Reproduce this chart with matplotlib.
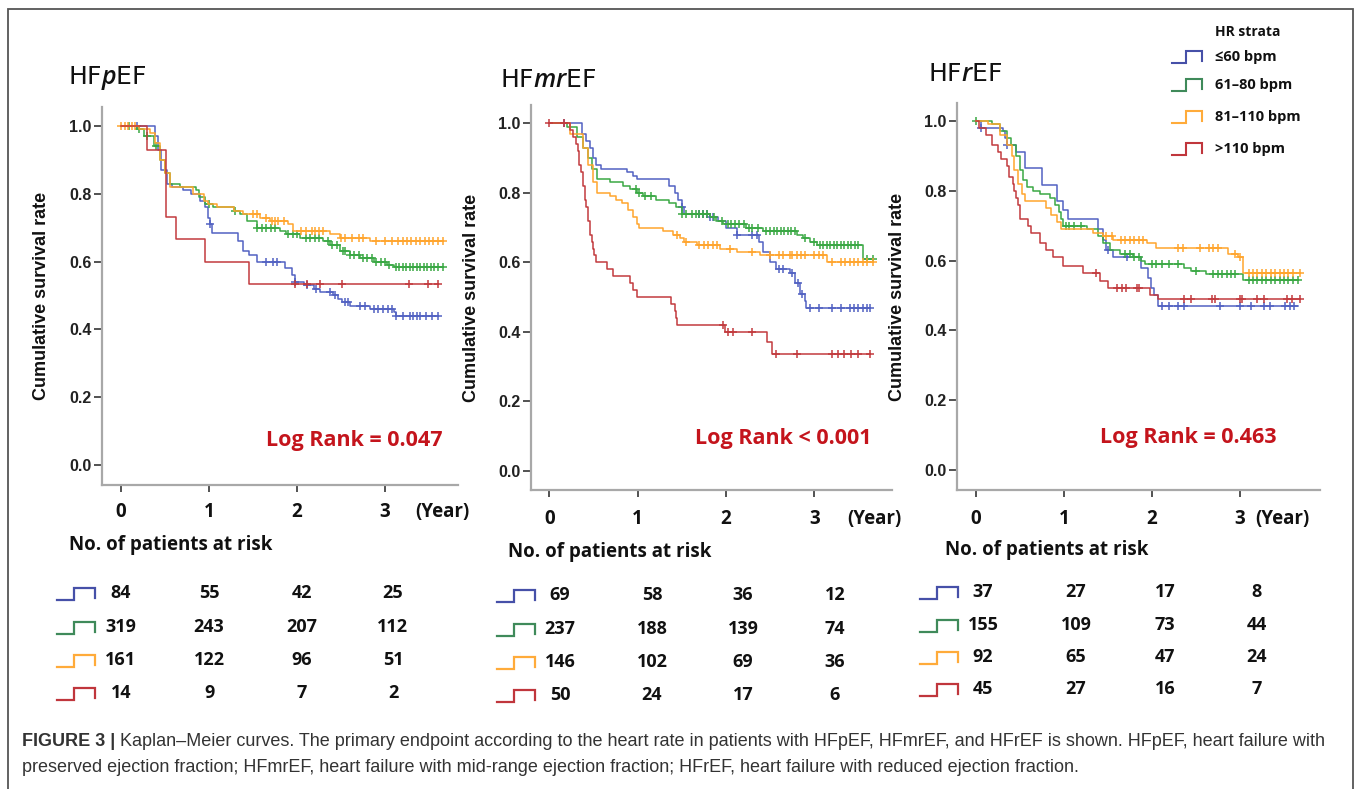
import numpy as np
import matplotlib.pyplot as plt
from matplotlib import font_manager as fm
from matplotlib.lines import Line2D
from matplotlib.patches import Rectangle

W, H = 1357, 789  # figure size in px

groups = ['≤60 bpm', '61–80 bpm', '81–110 bpm', '>110 bpm']
colors = ['#5262c2', '#3aa844', '#ffa52e', '#c23b3e']
icon_colors = ['#4650a8', '#3f8a5a', '#ffab3a', '#c0363c']
titles = [r'HF$\mathit{p}$EF', r'HF$\mathit{mr}$EF', r'HF$\mathit{r}$EF']
logrank = ['Log Rank = 0.047', 'Log Rank < 0.001', 'Log Rank = 0.463']
years = [0, 1, 2, 3]

# ---- HFpEF ----
p_blue_t = [0, 0.39, 0.42, 0.46, 0.52, 0.58, 0.70, 0.80, 0.90, 0.95, 0.99, 1.01, 1.03, 1.33, 1.39, 1.45,
            1.54, 1.86, 1.94, 1.98, 2.08, 2.19, 2.26, 2.41, 2.47, 2.51, 2.60, 2.83, 3.10, 3.13]
p_blue_s = [1.0, 0.97, 0.93, 0.87, 0.83, 0.82, 0.81, 0.80, 0.78, 0.76, 0.73, 0.71, 0.685, 0.66, 0.63, 0.62,
            0.60, 0.58, 0.56, 0.54, 0.53, 0.52, 0.51, 0.50, 0.49, 0.48, 0.47, 0.46, 0.45, 0.44]
p_blue_c = [0.18, 1.01, 1.65, 1.73, 1.77, 1.98, 2.11, 2.22, 2.37, 2.43, 2.55, 2.58, 2.72, 2.77, 2.87, 2.92,
            2.98, 3.04, 3.08, 3.13, 3.2, 3.28, 3.32, 3.36, 3.4, 3.47, 3.53, 3.6]
p_green_t = [0, 0.18, 0.26, 0.38, 0.44, 0.50, 0.56, 0.67, 0.85, 0.89, 0.95, 1.05, 1.28, 1.35, 1.43, 1.54,
             1.81, 1.88, 2.03, 2.30, 2.38, 2.49, 2.60, 2.72, 2.87, 3.02, 3.10]
p_green_s = [1.0, 0.99, 0.97, 0.94, 0.90, 0.86, 0.83, 0.82, 0.81, 0.79, 0.77, 0.76, 0.75, 0.74, 0.72, 0.70,
             0.69, 0.68, 0.67, 0.66, 0.65, 0.63, 0.62, 0.61, 0.60, 0.59, 0.585]
p_green_c = [0.09, 0.2, 0.3, 0.4, 1.0, 1.3, 1.55, 1.6, 1.65, 1.7, 1.75, 1.9, 1.95, 2.0, 2.1, 2.15, 2.2, 2.25,
             2.35, 2.4, 2.45, 2.52, 2.55, 2.6, 2.65, 2.7, 2.75, 2.8, 2.85, 2.9, 2.95, 3.0, 3.05, 3.12, 3.16,
             3.2, 3.24, 3.28, 3.32, 3.36, 3.4, 3.44, 3.48, 3.52, 3.56, 3.6, 3.66]
p_orange_t = [0, 0.20, 0.33, 0.39, 0.44, 0.50, 0.56, 0.82, 0.94, 0.99, 1.09, 1.28, 1.39, 1.58, 1.69, 1.90,
              1.96, 2.37, 2.49, 2.83]
p_orange_s = [1.0, 0.99, 0.98, 0.95, 0.90, 0.86, 0.82, 0.80, 0.78, 0.77, 0.76, 0.75, 0.74, 0.73, 0.72, 0.71,
              0.69, 0.68, 0.67, 0.66]
p_orange_c = [0.0, 0.04, 0.08, 0.12, 0.16, 1.5, 1.55, 1.65, 1.72, 1.75, 1.78, 1.85, 2.05, 2.1, 2.17, 2.2,
              2.25, 2.3, 2.5, 2.55, 2.62, 2.7, 2.75, 2.9, 3.0, 3.08, 3.15, 3.2, 3.25, 3.3, 3.35, 3.4, 3.45,
              3.5, 3.55, 3.6, 3.66]
p_red_t = [0, 0.30, 0.51, 0.625, 0.95, 1.45]
p_red_s = [1.0, 0.93, 0.733, 0.667, 0.60, 0.533]
p_red_c = [1.98, 2.11, 2.26, 2.51, 3.27, 3.49, 3.60]
p_end = [3.60, 3.66, 3.66, 3.60]
p_risk = [[84, 55, 42, 25], [319, 243, 207, 112], [161, 122, 96, 51], [14, 9, 7, 2]]

# ---- HFmrEF ----
m_blue_t = [0, 0.37, 0.42, 0.46, 0.50, 0.53, 0.59, 0.88, 0.95, 0.99, 1.35, 1.42, 1.46, 1.50, 1.52, 1.82,
            1.91, 2.00, 2.12, 2.37, 2.42, 2.50, 2.57, 2.72, 2.78, 2.84, 2.89, 2.91]
m_blue_s = [1.0, 0.97, 0.95, 0.93, 0.90, 0.88, 0.87, 0.86, 0.85, 0.84, 0.82, 0.80, 0.78, 0.76, 0.74, 0.73,
            0.72, 0.70, 0.68, 0.66, 0.63, 0.60, 0.58, 0.57, 0.54, 0.51, 0.49, 0.47]
m_blue_c = [0.17, 1.50, 1.70, 1.74, 1.78, 1.82, 1.85, 2.12, 2.30, 2.35, 2.60, 2.65, 2.75, 2.82, 2.86,
            2.95, 3.05, 3.2, 3.3, 3.4, 3.45, 3.5, 3.55, 3.6, 3.63]
m_green_t = [0, 0.20, 0.31, 0.38, 0.44, 0.48, 0.54, 0.69, 0.84, 0.91, 0.99, 1.06, 1.21, 1.36, 1.44, 1.50,
             1.82, 1.89, 1.97, 2.23, 2.42, 2.80, 2.87, 2.95, 3.03, 3.55]
m_green_s = [1.0, 0.99, 0.96, 0.93, 0.90, 0.87, 0.84, 0.83, 0.82, 0.81, 0.80, 0.79, 0.78, 0.77, 0.76, 0.74,
             0.73, 0.72, 0.71, 0.70, 0.69, 0.68, 0.67, 0.66, 0.65, 0.61]
m_green_c = [0.98, 1.02, 1.08, 1.15, 1.5, 1.55, 1.62, 1.66, 1.7, 1.74, 1.78, 1.86, 1.95, 2.02, 2.06, 2.1,
             2.15, 2.2, 2.26, 2.3, 2.36, 2.45, 2.5, 2.54, 2.58, 2.62, 2.66, 2.7, 2.74, 2.78, 2.9, 3.0, 3.06,
             3.1, 3.14, 3.18, 3.22, 3.26, 3.3, 3.34, 3.38, 3.42, 3.46, 3.5, 3.6, 3.67]
m_orange_t = [0, 0.23, 0.38, 0.44, 0.50, 0.54, 0.69, 0.76, 0.82, 0.89, 0.95, 0.99, 1.02, 1.29, 1.40, 1.48,
              1.52, 1.67, 1.93, 2.12, 2.38, 3.14]
m_orange_s = [1.0, 0.97, 0.93, 0.88, 0.83, 0.80, 0.79, 0.78, 0.77, 0.75, 0.73, 0.71, 0.70, 0.69, 0.68, 0.67,
              0.66, 0.65, 0.64, 0.63, 0.62, 0.60]
m_orange_c = [1.45, 1.55, 1.7, 1.75, 1.8, 1.85, 1.9, 2.05, 2.3, 2.5, 2.6, 2.65, 2.72, 2.75, 2.8, 2.85, 2.9,
              3.0, 3.05, 3.1, 3.2, 3.3, 3.35, 3.4, 3.45, 3.5, 3.55, 3.6, 3.67]
m_red_t = [0, 0.23, 0.27, 0.30, 0.32, 0.34, 0.36, 0.38, 0.40, 0.42, 0.44, 0.46, 0.48, 0.50, 0.51, 0.53,
           0.65, 0.72, 0.91, 0.95, 0.99, 1.38, 1.42, 1.44, 1.45, 1.99, 2.46, 2.52]
m_red_s = [1.0, 0.98, 0.96, 0.94, 0.92, 0.88, 0.86, 0.82, 0.78, 0.76, 0.72, 0.68, 0.66, 0.64, 0.62, 0.60,
           0.58, 0.56, 0.54, 0.52, 0.50, 0.48, 0.46, 0.44, 0.42, 0.40, 0.37, 0.336]
m_red_c = [0.0, 0.17, 1.97, 2.02, 2.08, 2.3, 2.57, 2.8, 3.2, 3.27, 3.34, 3.42, 3.5, 3.63]
m_end = [3.63, 3.67, 3.67, 3.63]
m_risk = [[69, 58, 36, 12], [237, 188, 139, 74], [146, 102, 69, 36], [50, 24, 17, 6]]

# ---- HFrEF ----
r_blue_t = [0, 0.06, 0.31, 0.33, 0.35, 0.46, 0.56, 0.75, 0.92, 0.99, 1.05, 1.39, 1.45, 1.48, 1.56, 1.88,
            1.96, 1.99, 2.02, 2.07]
r_blue_s = [1.0, 0.98, 0.97, 0.95, 0.93, 0.91, 0.865, 0.815, 0.77, 0.745, 0.72, 0.69, 0.66, 0.63, 0.61,
            0.58, 0.55, 0.52, 0.50, 0.47]
r_blue_c = [0.06, 0.35, 1.50, 1.72, 2.11, 2.2, 2.3, 2.36, 2.77, 3.0, 3.13, 3.27, 3.34, 3.51, 3.57, 3.62]
r_green_t = [0, 0.19, 0.27, 0.36, 0.40, 0.46, 0.50, 0.54, 0.58, 0.65, 0.73, 0.84, 0.90, 0.94, 0.97, 0.99,
             1.26, 1.39, 1.45, 1.52, 1.64, 1.79, 1.88, 1.92, 2.36, 2.45, 2.62, 3.04]
r_green_s = [1.0, 0.99, 0.97, 0.95, 0.93, 0.90, 0.86, 0.83, 0.81, 0.80, 0.79, 0.78, 0.76, 0.74, 0.72, 0.70,
             0.69, 0.67, 0.65, 0.63, 0.62, 0.61, 0.60, 0.59, 0.58, 0.57, 0.56, 0.545]
r_green_c = [0.0, 1.02, 1.06, 1.12, 1.2, 1.7, 1.75, 1.8, 1.85, 2.0, 2.05, 2.12, 2.2, 2.3, 2.5, 2.7, 2.75,
             2.8, 2.85, 2.9, 2.95, 3.1, 3.15, 3.2, 3.25, 3.3, 3.35, 3.4, 3.45, 3.5, 3.55, 3.6, 3.66]
r_orange_t = [0, 0.14, 0.27, 0.35, 0.41, 0.44, 0.48, 0.52, 0.56, 0.80, 0.86, 0.92, 0.97, 1.33, 1.45, 1.56,
              1.94, 2.05, 2.87, 2.98, 3.04]
r_orange_s = [1.0, 0.99, 0.96, 0.93, 0.90, 0.86, 0.82, 0.79, 0.77, 0.75, 0.73, 0.71, 0.69, 0.68, 0.67, 0.66,
              0.65, 0.635, 0.62, 0.61, 0.565]
r_orange_c = [1.48, 1.55, 1.65, 1.7, 1.75, 1.8, 1.85, 1.9, 2.3, 2.35, 2.55, 2.65, 2.7, 2.75, 2.95, 3.0,
              3.1, 3.15, 3.2, 3.25, 3.3, 3.35, 3.4, 3.45, 3.5, 3.55, 3.6, 3.68]
r_red_t = [0, 0.04, 0.12, 0.18, 0.25, 0.29, 0.35, 0.38, 0.42, 0.44, 0.46, 0.48, 0.50, 0.59, 0.63, 0.73,
           0.80, 0.88, 0.99, 1.22, 1.41, 1.50, 1.58, 1.98, 2.07]
r_red_s = [1.0, 0.98, 0.96, 0.93, 0.91, 0.89, 0.87, 0.84, 0.82, 0.80, 0.78, 0.76, 0.72, 0.70, 0.68, 0.65,
           0.63, 0.61, 0.585, 0.565, 0.54, 0.52, 0.52, 0.50, 0.49]
r_red_c = [1.37, 1.6, 1.66, 1.71, 1.83, 1.85, 2.36, 2.44, 2.68, 2.72, 3.0, 3.02, 3.19, 3.27, 3.53, 3.59, 3.68]
r_end = [3.66, 3.66, 3.68, 3.68]
r_risk = [[37, 27, 17, 8], [155, 109, 73, 44], [92, 65, 47, 24], [45, 27, 16, 7]]

panels = [
    dict(curves=[(p_blue_t, p_blue_s, p_blue_c), (p_green_t, p_green_s, p_green_c),
                 (p_orange_t, p_orange_s, p_orange_c), (p_red_t, p_red_s, p_red_c)], end=p_end, risk=p_risk),
    dict(curves=[(m_blue_t, m_blue_s, m_blue_c), (m_green_t, m_green_s, m_green_c),
                 (m_orange_t, m_orange_s, m_orange_c), (m_red_t, m_red_s, m_red_c)], end=m_end, risk=m_risk),
    dict(curves=[(r_blue_t, r_blue_s, r_blue_c), (r_green_t, r_green_s, r_green_c),
                 (r_orange_t, r_orange_s, r_orange_c), (r_red_t, r_red_s, r_red_c)], end=r_end, risk=r_risk),
]

# layout (pixels): axes box, limits, text spots
boxes = [(102, 458, 107, 485), (531, 892, 105, 490), (957, 1320, 103, 490)]
xlims = [(-0.216, 3.83), (-0.207, 3.88), (-0.213, 3.91)]
ylims = [(-0.059, 1.056), (-0.055, 1.053), (-0.057, 1.051)]
title_xy = [(68, 78), (500, 80), (928, 74)]
ylab_x = [50, 480, 906]
tick_y = [512, 519, 519]
year_x = [415, 847, 1255]
head_xy = [(69, 545), (508, 552), (945, 550)]
icon_x = [57, 497, 920]
col_x = [[121, 209, 302, 393], [560, 652, 743, 835], [983, 1076, 1165, 1257]]
row_y = [[593, 627, 660, 693], [595, 629, 662, 695], [592, 625, 657, 689]]
lr_pos = [(3.65, 0.071), (3.65, 0.092), (3.42, 0.092)]


def has_bold(fam):
    for f in fm.fontManager.ttflist:
        w = f.weight if isinstance(f.weight, int) else {'bold': 700, 'semibold': 600}.get(f.weight, 400)
        if f.name == fam and w >= 700:
            return True
    return False


bold_fam = next((f for f in ['Open Sans', 'Noto Sans', 'Lato', 'Liberation Sans'] if has_bold(f)),
                'DejaVu Sans')

plt.rcParams['mathtext.fontset'] = 'custom'
plt.rcParams['mathtext.rm'] = bold_fam + ':semibold'
plt.rcParams['mathtext.it'] = bold_fam + ':italic:semibold'

fig = plt.figure(figsize=(W / 100, H / 100), dpi=100)
fig.patch.set_facecolor('white')


def fx(px):
    return px / W


def fy(py):
    return 1 - py / H


def icon(x0, yc, w, h, color, lw=1.6):
    # little step symbol used as the strata key
    xs = np.array([0, 0.45, 0.45, 1.0, 1.0]) * w + x0
    ys = yc + h / 2 - np.array([0, 0, 1, 1, 0.15]) * h
    fig.add_artist(Line2D([fx(v) for v in xs], [fy(v) for v in ys], color=color, lw=lw,
                          solid_joinstyle='miter'))


BOLD = dict(family=[bold_fam, 'DejaVu Sans'], weight='bold')

for k, pan in enumerate(panels):
    l, r, t, b = boxes[k]
    ax = fig.add_axes([fx(l), fy(b), (r - l) / W, (b - t) / H])
    ax.set_xlim(*xlims[k])
    ax.set_ylim(*ylims[k])
    for (tt, ss, cc), col, te in zip(pan['curves'], colors, pan['end']):
        tt = np.array(tt + [te])
        ss = np.array(ss + [ss[-1]])
        ax.step(tt, ss, where='post', color=col, lw=1.1)
        cc = np.array(cc)
        idx = np.searchsorted(tt, cc, side='right') - 1
        ax.plot(cc, ss[idx], '+', color=col, ms=5.5, mew=1.1)
    for s in ['top', 'right']:
        ax.spines[s].set_visible(False)
    for s in ['left', 'bottom']:
        ax.spines[s].set_color('#a8a8a8')
        ax.spines[s].set_linewidth(1.6)
    ax.set_yticks([0, 0.2, 0.4, 0.6, 0.8, 1.0])
    ax.set_yticklabels(['0.0', '0.2', '0.4', '0.6', '0.8', '1.0'], family='Liberation Sans',
                       weight='bold', fontsize=11.5, color='#222')
    ax.tick_params(axis='y', length=6, width=1.3, color='#444', pad=1.5)
    ax.set_xticks(years)
    ax.set_xticklabels([])
    ax.tick_params(axis='x', length=5, width=1.3, color='#444')
    for yr in years:
        ax.text(yr, -(tick_y[k] - b) / (b - t), str(yr), transform=ax.get_xaxis_transform(),
                ha='center', va='center', fontsize=13.5, color='#111', **BOLD)
    ax.set_ylabel('Cumulative survival rate', family='Liberation Sans', weight='bold', fontsize=13,
                  color='#111')
    ax.yaxis.set_label_coords((ylab_x[k] - l) / (r - l), 0.5)
    ax.text(lr_pos[k][0], lr_pos[k][1], logrank[k], ha='right', va='center', fontsize=15.5,
            color='#c4141c', **BOLD)

    fig.text(fx(title_xy[k][0]), fy(title_xy[k][1]), titles[k], fontsize=18, va='center', ha='left',
             color='#111')
    fig.text(fx(year_x[k]), fy(tick_y[k]), '(Year)', fontsize=13.5, va='center', ha='left', color='#111',
             **BOLD)
    fig.text(fx(head_xy[k][0]), fy(head_xy[k][1]), 'No. of patients at risk', fontsize=13.5, va='center',
             ha='left', color='#111', **BOLD)
    for g in range(4):
        yc = row_y[k][g]
        icon(icon_x[k], yc + 1, 38, 12, icon_colors[g])
        for j in range(4):
            fig.text(fx(col_x[k][j]), fy(yc), str(pan['risk'][g][j]), fontsize=13, va='center', ha='center',
                     color='#111', **BOLD)

# strata legend
fig.text(fx(1215), fy(32), 'HR strata', fontsize=10, va='center', ha='left', color='#111', **BOLD)
for g, yc in enumerate([57, 85, 117, 149]):
    icon(1172, yc, 30, 12, icon_colors[g], lw=1.5)
    fig.text(fx(1215), fy(yc), groups[g], fontsize=10.5, va='center', ha='left', color='#111', **BOLD)

# frame around the figure
fig.add_artist(Rectangle((fx(8), -0.1), (1353 - 8) / W, 1.1 - 9 / H, transform=fig.transFigure,
                         fill=False, edgecolor='#555555', lw=1.3))

# caption
cap_font = dict(family='Liberation Sans', fontsize=13, color='#333333', va='center', ha='left')
lab = fig.text(fx(22), fy(741), 'FIGURE 3 |', weight='bold', **cap_font)
fig.canvas.draw()
bb = lab.get_window_extent()
fig.text((bb.x1 + 5) / W, fy(741),
         'Kaplan–Meier curves. The primary endpoint according to the heart rate in patients with HFpEF, '
         'HFmrEF, and HFrEF is shown. HFpEF, heart failure with', **cap_font)
fig.text(fx(22), fy(767), 'preserved ejection fraction; HFmrEF, heart failure with mid-range ejection '
         'fraction; HFrEF, heart failure with reduced ejection fraction.', **cap_font)

fig.savefig('out.png', dpi=100)
